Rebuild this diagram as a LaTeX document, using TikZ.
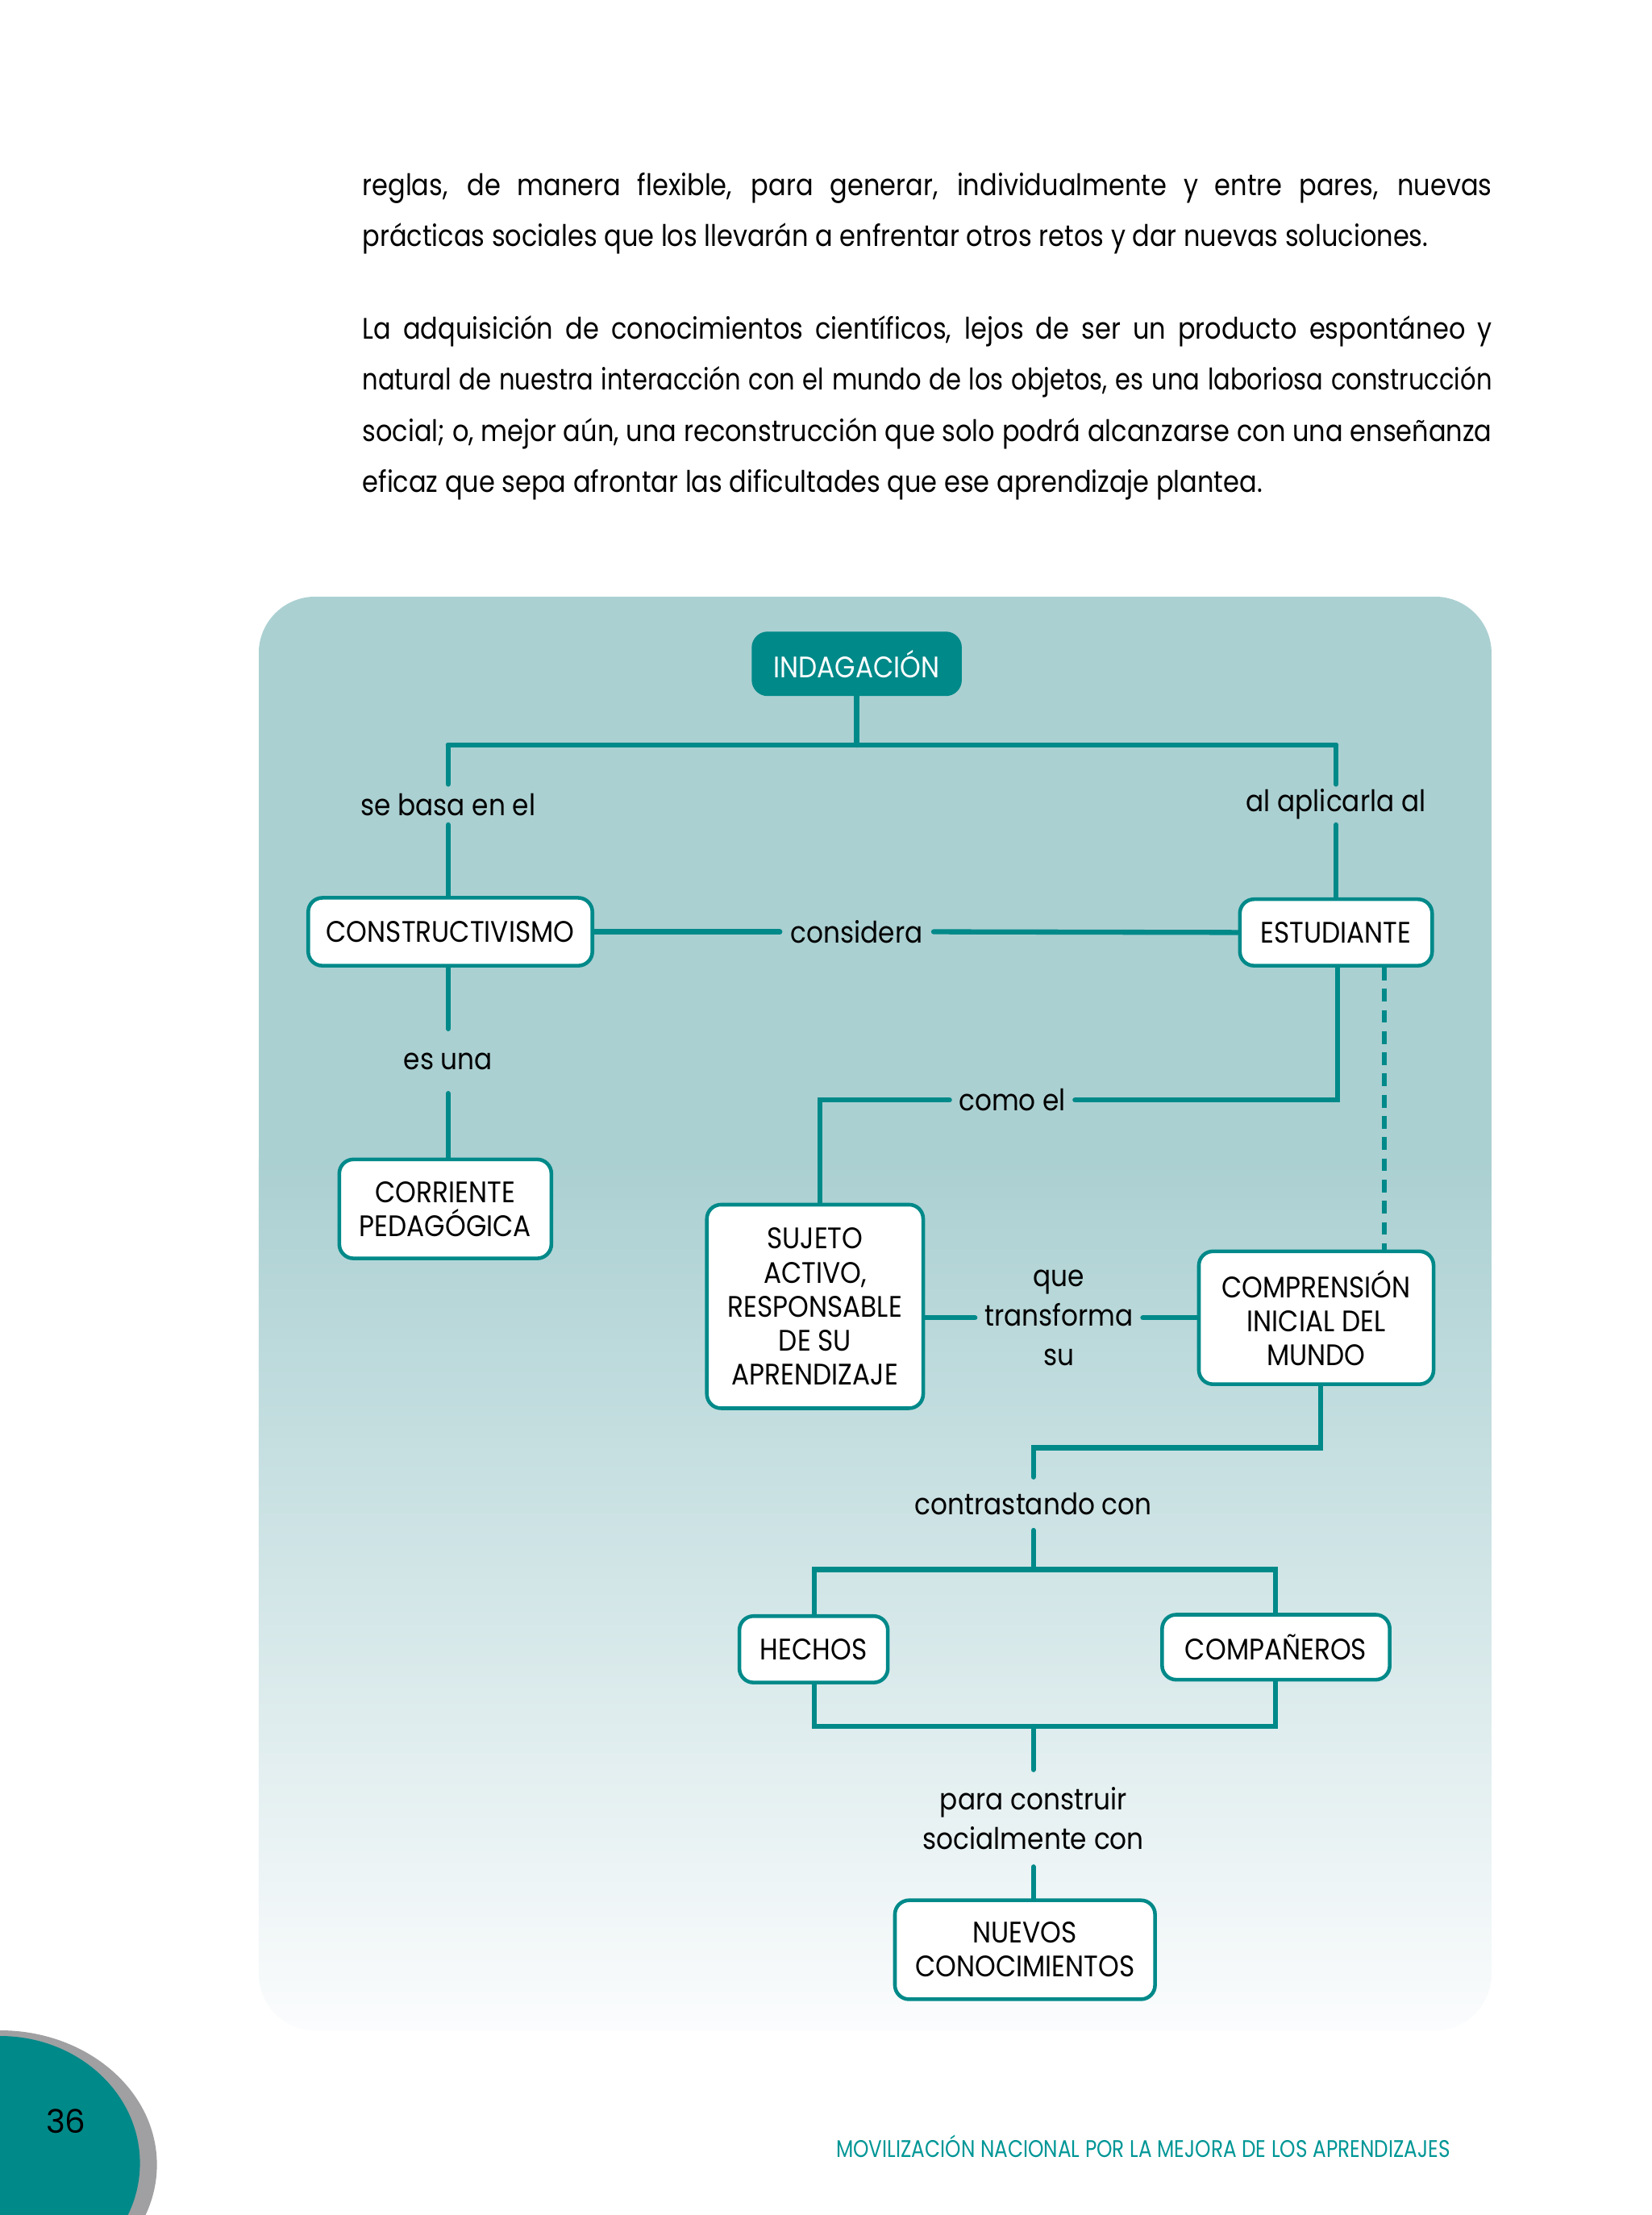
\documentclass[tikz,border=0pt]{standalone}
\usepackage{fontspec}
\setmainfont{Poppins}[FakeStretch=0.89]
\newfontfamily\bodyfont{Poppins}[FakeStretch=0.87]
\newfontfamily\bodytight{Poppins}[FakeStretch=0.83]
\newfontfamily\footfont{Poppins}[FakeStretch=0.83]
\newfontfamily\numfont{Poppins}
\definecolor{teal1}{RGB}{0,137,137}
\definecolor{bgteal}{RGB}{171,208,210}
\definecolor{tabgray}{RGB}{160,160,162}
\definecolor{footteal}{RGB}{0,150,150}
\definecolor{bgend}{RGB}{251,252,253}
\pgfdeclarelayer{back}
\pgfdeclarelayer{lines}
\pgfsetlayers{back,lines,main}
\newcommand\nodefont{\fontsize{10.5}{12}\selectfont}
\newcommand\lblfont{\fontsize{10.5}{14}\selectfont}
\begin{document}
\begin{tikzpicture}[x=0.5pt,y=-0.5pt,
  box/.style={draw=teal1, line width=1.3pt, fill=white, rounded corners=5pt,
    align=center, inner sep=0pt, font=\nodefont},
  lbl/.style={inner sep=0pt, align=center, font=\lblfont},
  conn/.style={draw=teal1, line width=1.8pt, line cap=round},
  dashconn/.style={draw=teal1, line width=1.8pt, line cap=butt, dash pattern=on 4.5pt off 3pt},
  para/.style={anchor=north west, inner sep=0pt, text width=399.5pt, align=justify,
    font=\bodyfont\fontsize{10.5}{18}\selectfont}]
\useasboundingbox (0,0) rectangle (1168,1566.6);
\begin{pgfonlayer}{back}
\fill[white] (0,0) rectangle (1168,1566.6);
\begin{scope}
\clip[rounded corners=20pt] (183,422) rectangle (1055,1436);
\fill[bgteal] (183,422) rectangle (1055,821);
\shade[top color=bgteal, bottom color=bgend] (183,820) rectangle (1055,1436);
\end{scope}
\begin{scope}
\clip (0,0) rectangle (1168,1566.6);
\fill[tabgray] (0,1531) ellipse [x radius=55.5pt, y radius=47.5pt];
\fill[teal1] (0,1530) ellipse [x radius=49.5pt, y radius=45pt];
\end{scope}
\end{pgfonlayer}

% paragraphs
\node[para] (p1) at (256,122) {\hyphenpenalty=10000 reglas, de manera flexible, para generar, individualmente y entre pares, nuevas\linebreak
prácticas sociales que los llevarán a enfrentar otros retos y dar nuevas soluciones.};
\node[para] (p2) at (256,223) {\hyphenpenalty=10000 La adquisición de conocimientos científicos, lejos de ser un producto espontáneo y\linebreak
{\bodytight natural de nuestra interacción con el mundo de los objetos, es una laboriosa construcción}\linebreak
social; o, mejor aún, una reconstrucción que solo podrá alcanzarse con una enseñanza\linebreak
eficaz que sepa afrontar las dificultades que ese aprendizaje plantea.};

% boxes
\node[box, fill=teal1, draw=teal1, text=white, minimum width=73pt, minimum height=21.5pt] (ind) at (606,469.5) {INDAGACIÓN};
\node[box, minimum width=100.5pt, minimum height=24pt] (cons) at (318.5,659) {CONSTRUCTIVISMO};
\node[box, minimum width=68pt, minimum height=23.5pt] (est) at (945,659.5) {ESTUDIANTE};
\node[box, minimum width=75pt, minimum height=35pt] (corr) at (315,855) {CORRIENTE\\PEDAGÓGICA};
\node[box, minimum width=76.5pt, minimum height=72pt] (suj) at (576.5,924) {SUJETO\\ACTIVO,\\RESPONSABLE\\DE SU\\APRENDIZAJE};
\node[box, minimum width=83pt, minimum height=47pt] (comp) at (931,932) {COMPRENSIÓN\\INICIAL DEL\\MUNDO};
\node[box, minimum width=52.5pt, minimum height=23.5pt] (hech) at (575.5,1166.5) {HECHOS};
\node[box, minimum width=80.5pt, minimum height=23pt] (compa) at (902.5,1165) {COMPAÑEROS};
\node[box, minimum width=92pt, minimum height=35pt] (nuev) at (725,1379) {NUEVOS\\CONOCIMIENTOS};

% labels
\node[lbl, minimum height=14pt] (lsb) at (317,569) {se basa en el};
\node[lbl, minimum height=14pt] (lap) at (945,569) {al aplicarla al};
\node[lbl, minimum width=54pt] (lcon) at (606,659) {considera};
\node[lbl, minimum height=22.5pt] (les) at (317,750.5) {es una};
\node[lbl, minimum width=44pt] (lcomo) at (716,778) {como el};
\node[lbl, minimum width=59pt] (lque) at (749,932) {que\\transforma\\su};
\node[lbl, minimum height=18.5pt] (lcontr) at (731,1063.5) {contrastando con};
\node[lbl, minimum height=34pt] (lpara) at (731,1286) {para construir\\socialmente con};

% footer and page number
\node[font=\numfont\fontsize{11.5}{13}\selectfont] (pnum) at (46.6,1500) {36};
\node[anchor=west, inner sep=0pt, text=footteal, font=\footfont\fontsize{8.5}{10}\selectfont] (foot) at (591,1518) {MOVILIZACIÓN NACIONAL POR LA MEJORA DE LOS APRENDIZAJES};

% connectors
\coordinate (jL) at (317,527);
\coordinate (jR) at (945,527);
\coordinate (c1) at (946,778);
\coordinate (c2) at (580,778);
\coordinate (d1) at (979,700);
\coordinate (k1) at (934,1024);
\coordinate (k2) at (731,1024);
\coordinate (m1) at (576,1110);
\coordinate (m2) at (902,1110);
\coordinate (n1) at (576,1221);
\coordinate (n2) at (902,1221);
\begin{pgfonlayer}{lines}
\draw[conn] (ind.south) -- (ind.south |- jL);
\draw[conn] (jL) -- (jR);
\draw[conn] (jL) -- (lsb.north);
\draw[conn] (lsb.south) -- (lsb.south |- cons.north);
\draw[conn] (jR) -- (lap.north);
\draw[conn] (lap.south) -- (lap.south |- est.north);
\draw[conn] (cons.east) -- (lcon.west);
\draw[conn] (lcon.east) -- (est.west);
\draw[conn] (les.north |- cons.south) -- (les.north);
\draw[conn] (les.south) -- (les.south |- corr.north);
\draw[conn] (est.south -| c1) -- (c1) -- (lcomo.east);
\draw[conn] (lcomo.west) -- (c2) -- (c2 |- suj.north);
\draw[dashconn] (est.south -| d1) -- (comp.north -| d1);
\draw[conn] (suj.east |- lque) -- (lque.west);
\draw[conn] (lque.east) -- (lque.east -| comp.west);
\draw[conn] (comp.south -| k1) -- (k1) -- (k2) -- (lcontr.north);
\draw[conn] (lcontr.south) -- (lcontr.south |- m1);
\draw[conn] (m1 |- hech.north) -- (m1) -- (m2) -- (m2 |- compa.north);
\draw[conn] (n1 |- hech.south) -- (n1) -- (n2) -- (n2 |- compa.south);
\draw[conn] (lpara.north) -- (lpara.north |- n1);
\draw[conn] (lpara.south) -- (lpara.south |- nuev.north);
\end{pgfonlayer}
\end{tikzpicture}
\end{document}
